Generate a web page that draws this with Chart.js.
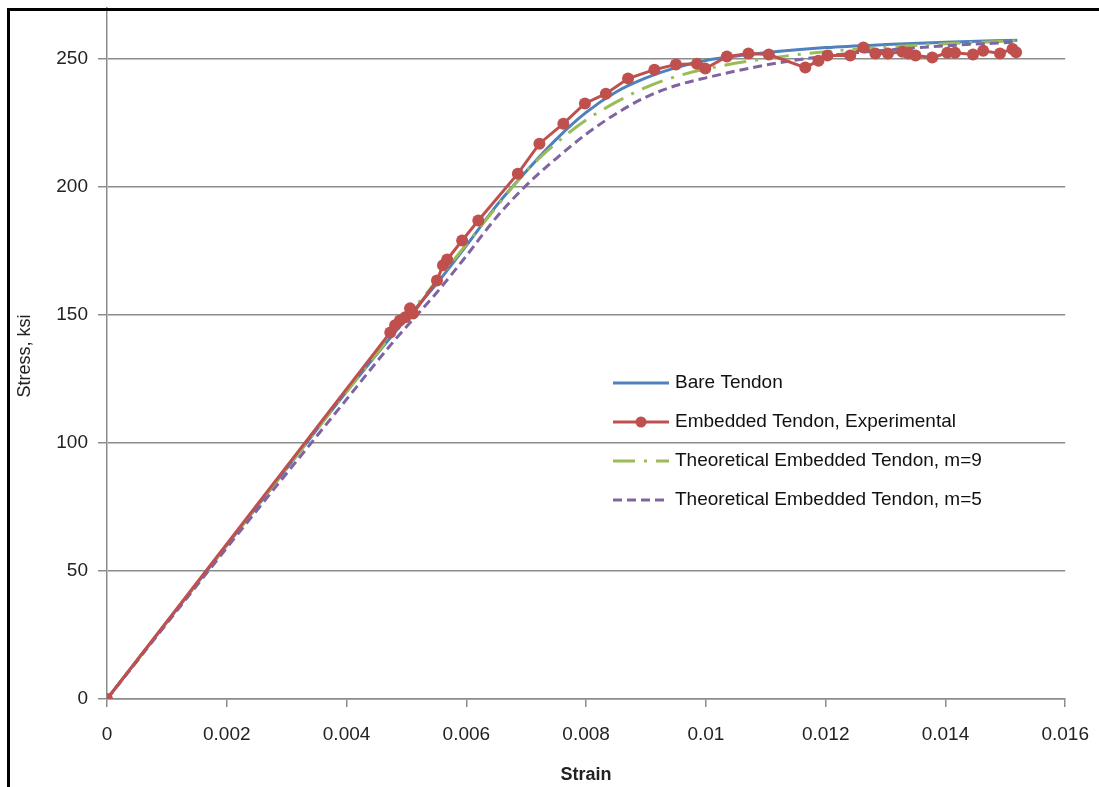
<!DOCTYPE html>
<html lang="en">
  <head>
    <meta charset="UTF-8" />
    <title>stress strain</title>
    <script src="https://cdn.jsdelivr.net/npm/chart.js@4.4.0/dist/chart.umd.min.js"></script>
    <style>
      html, body { margin: 0; padding: 0; background: #fff; overflow: hidden; }
      #wrap { position: relative; width: 1099px; height: 787px; overflow: hidden; }
      #myChart { position: absolute; left: 0; top: -14px; }
      #frame { position: absolute; left: 7px; top: 8px; width: 1200px; height: 776px;
               border-left: 3px solid #000; border-top: 3px solid #000; border-bottom: 3px solid #000;
               pointer-events: none; }
    </style>
  </head>
  <body>
    <div id="wrap">
      <canvas id="myChart" width="1105" height="801"></canvas>
      <div id="frame"></div>
    </div>

    <script>
      // canvas sits 14px above the page top
      const OFF = 14;

      // axis tick labels
      const xTickLabels = ['0', '0.002', '0.004', '0.006', '0.008', '0.01', '0.012', '0.014', '0.016'];
      const yTickLabels = ['0', '50', '100', '150', '200', '250'];

      // Bare Tendon
      const bareStrain = [0, 0.001, 0.002, 0.003, 0.004, 0.0048, 0.0055, 0.006, 0.0065, 0.007, 0.0075, 0.008,
                          0.0085, 0.009, 0.0095, 0.010, 0.011, 0.012, 0.013, 0.014, 0.0152];
      const bareStress = [0, 30, 60, 90, 120, 143, 162, 177, 192.5, 206, 218.5, 229,
                          237, 242.5, 246.5, 249.3, 252.3, 254.3, 255.5, 256.4, 257.2];

      // Embedded Tendon, Experimental
      const expStrain = [0, 0.00473, 0.00481, 0.00489, 0.00498, 0.00506, 0.00511, 0.00551, 0.00561, 0.00568,
                         0.00593, 0.0062, 0.00686, 0.00722, 0.00762, 0.00798, 0.00833, 0.0087, 0.00914, 0.0095,
                         0.00985, 0.00999, 0.01035, 0.01071, 0.01105, 0.01166, 0.01188, 0.01203, 0.01241, 0.01263,
                         0.01283, 0.01304, 0.01328, 0.01338, 0.0135, 0.01378, 0.01403, 0.01416, 0.01446, 0.01463,
                         0.01491, 0.01512, 0.01518];
      const expStress = [0, 143.1, 145.9, 147.8, 149, 152.5, 150.5, 163.4, 169.3, 171.6,
                         179, 186.8, 205.1, 216.8, 224.6, 232.5, 236.3, 242.2, 245.7, 247.7,
                         248, 246.1, 250.8, 252, 251.6, 246.5, 249.2, 251.2, 251.2, 254.3,
                         252, 252, 252.7, 252, 251.2, 250.4, 252.3, 252.3, 251.6, 253.1,
                         252, 253.8, 252.5];

      // Theoretical Embedded Tendon, m=9
      const m9Strain = [0, 0.002, 0.004, 0.0048, 0.0055, 0.006, 0.0065, 0.007, 0.0075, 0.008, 0.0085,
                        0.009, 0.0095, 0.010, 0.011, 0.012, 0.013, 0.014, 0.0152];
      const m9Stress = [0, 60, 120, 143.5, 163, 177.5, 192, 206, 217, 226, 233,
                        238.8, 243, 246, 250, 252.7, 254.5, 255.8, 257];

      // Theoretical Embedded Tendon, m=5
      const m5Strain = [0, 0.002, 0.004, 0.0048, 0.0055, 0.006, 0.0065, 0.007, 0.0075, 0.008, 0.0085,
                        0.009, 0.0095, 0.010, 0.011, 0.012, 0.013, 0.014, 0.0152];
      const m5Stress = [0, 59, 117, 140, 158.5, 173, 188, 200.5, 211, 220.5, 228.5,
                        235, 239.5, 242.5, 247.5, 251, 253.3, 255, 256.5];

      function pts(xs, ys) {
        return xs.map((x, i) => ({ x: x, y: ys[i] }));
      }

      const FONT = '"Liberation Sans", Arial, sans-serif';

      const titles = {
        id: 'titles',
        afterDraw(chart) {
          const c = chart.ctx;
          c.save();
          c.fillStyle = '#222';
          c.textAlign = 'center';
          c.textBaseline = 'middle';
          c.font = 'bold 18px ' + FONT;
          c.fillText('Strain', (chart.chartArea.left + chart.chartArea.right) / 2, 775 + OFF);
          c.translate(25, 356 + OFF);
          c.rotate(-Math.PI / 2);
          c.font = '18px ' + FONT;
          c.fillText('Stress, ksi', 0, 0);
          c.restore();
        }
      };

      const legendBox = {
        id: 'legendBox',
        afterDraw(chart) {
          const c = chart.ctx;
          const rows = [383, 422, 461, 500];
          c.save();
          chart.data.datasets.forEach((ds, i) => {
            const y = rows[i] + OFF;
            c.strokeStyle = ds.borderColor;
            c.lineWidth = ds.borderWidth;
            c.setLineDash(ds.borderDash || []);
            c.beginPath();
            c.moveTo(613, y);
            c.lineTo(669, y);
            c.stroke();
            c.setLineDash([]);
            if (ds.pointRadius > 0) {
              c.fillStyle = ds.borderColor;
              c.beginPath();
              c.arc(641, y, 5.5, 0, Math.PI * 2);
              c.fill();
            }
            c.fillStyle = '#111';
            c.font = '19px ' + FONT;
            c.textAlign = 'left';
            c.textBaseline = 'middle';
            c.fillText(ds.label, 675, y);
          });
          c.restore();
        }
      };

      const ctx = document.getElementById('myChart').getContext('2d');
      const myChart = new Chart(ctx, {
        type: 'line',
        data: {
          datasets: [
            {
              label: 'Bare Tendon',
              data: pts(bareStrain, bareStress),
              borderColor: '#4F81BD',
              borderWidth: 3,
              pointRadius: 0,
              tension: 0.4,
              cubicInterpolationMode: 'monotone',
              order: 3
            },
            {
              label: 'Embedded Tendon, Experimental',
              data: pts(expStrain, expStress),
              borderColor: '#C0504D',
              backgroundColor: '#C0504D',
              borderWidth: 3,
              pointRadius: 6,
              pointBorderWidth: 0,
              tension: 0,
              order: 0
            },
            {
              label: 'Theoretical Embedded Tendon, m=9',
              data: pts(m9Strain, m9Stress),
              borderColor: '#9BBB59',
              borderWidth: 3,
              borderDash: [22, 9, 3, 9],
              pointRadius: 0,
              tension: 0.4,
              cubicInterpolationMode: 'monotone',
              order: 2
            },
            {
              label: 'Theoretical Embedded Tendon, m=5',
              data: pts(m5Strain, m5Stress),
              borderColor: '#8064A2',
              borderWidth: 3,
              borderDash: [9, 5],
              pointRadius: 0,
              tension: 0.4,
              cubicInterpolationMode: 'monotone',
              order: 1
            }
          ]
        },
        options: {
          responsive: false,
          animation: false,
          layout: { padding: { left: 0, right: 34, top: 7, bottom: 0 } },
          plugins: { legend: { display: false }, tooltip: { enabled: false } },
          scales: {
            x: {
              type: 'linear',
              min: 0,
              max: 0.016,
              afterFit(scale) { scale.height = 88; },
              afterBuildTicks(scale) {
                scale.ticks = xTickLabels.map(l => ({ value: parseFloat(l) }));
              },
              ticks: {
                padding: 16,
                color: '#222',
                font: { family: FONT, size: 19 },
                maxRotation: 0,
                callback: (v, i) => xTickLabels[i]
              },
              grid: { drawOnChartArea: false, drawTicks: true, tickLength: 8, color: '#8c8c8c', lineWidth: 1.5 },
              border: { color: '#8c8c8c', width: 1.5 }
            },
            y: {
              min: 0,
              max: 270,
              afterFit(scale) { scale.width = 107; },
              afterBuildTicks(scale) {
                scale.ticks = yTickLabels.map(l => ({ value: parseFloat(l) }));
              },
              ticks: {
                padding: 10,
                color: '#222',
                font: { family: FONT, size: 19 },
                callback: (v, i) => yTickLabels[i]
              },
              grid: { tickLength: 9, color: '#8c8c8c', lineWidth: 1.5 },
              border: { color: '#8c8c8c', width: 1.5 }
            }
          }
        },
        plugins: [titles, legendBox]
      });
    </script>
  </body>
</html>
